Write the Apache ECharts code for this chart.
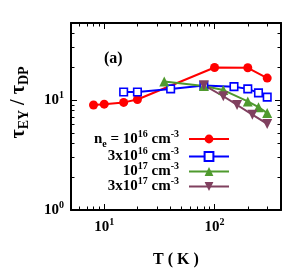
<!DOCTYPE html>
<html><head><meta charset="utf-8">
<script src="https://cdn.jsdelivr.net/npm/echarts@6/dist/echarts.min.js"></script>
<style>html,body{margin:0;padding:0;background:#fff}#c{width:292px;height:273px}</style>
</head><body><div id="c"></div>
<script>
// ---- data ----
const T_1e16 = [8, 10, 15, 20, 100, 200, 300];
const R_1e16 = [9.0, 9.15, 9.5, 10.1, 19.7, 19.6, 15.8];
const T_3e16 = [15, 20, 40, 80, 150, 200, 250, 300];
const R_3e16 = [11.8, 11.8, 12.6, 13.5, 13.2, 12.6, 11.6, 10.6];
const T_1e17 = [35, 80, 120, 200, 250, 300];
const R_1e17 = [14.7, 13.4, 12.3, 9.7, 8.6, 7.6];
const T_3e17 = [80, 120, 160, 220, 300];
const R_3e17 = [13.6, 10.8, 9.0, 7.35, 6.05];

const seriesNames = ['n1e16', 'n3e16', 'n1e17', 'n3e17'];
const seriesLabels = [
  '{b|n}{sub|e}{b| = 10}{sup|16}{b| cm}{sup|-3}',
  '{b|3x10}{sup|16}{b| cm}{sup|-3}',
  '{b|10}{sup|17}{b| cm}{sup|-3}',
  '{b|3x10}{sup|17}{b| cm}{sup|-3}'
];

const X_MIN = 5, X_MAX = 400;
const Y_MIN = 1, Y_MAX = 50;
const xMinorTicks = [6, 7, 8, 9, 20, 30, 40, 50, 60, 70, 80, 90, 200, 300];
const xMajorTicks = [10, 100];
const yMinorTicks = [2, 3, 4, 5, 6, 7, 8, 9, 20, 30, 40];
const yMajorTicks = [1, 10];

// ---- styling ----
const FONT = 'Liberation Serif';
const richSup = {
  b: { fontFamily: FONT, fontWeight: 'bold', fontSize: 15, lineHeight: 20, color: '#000' },
  sup: { fontFamily: FONT, fontWeight: 'bold', fontSize: 10, lineHeight: 1, verticalAlign: 'top', color: '#000' },
  sub: { fontFamily: FONT, fontWeight: 'bold', fontSize: 10, lineHeight: 1, verticalAlign: 'bottom', color: '#000' }
};
const supLabel = v => '{b|10}{sup|' + Math.round(Math.log10(v)) + '}';

const lx = [Math.log10(X_MIN), Math.log10(X_MAX)];
const ly = [Math.log10(Y_MIN), Math.log10(Y_MAX)];
function deco(dim, position, ticks, len, line) {
  const ext = dim === 'x' ? lx : ly;
  return {
    type: 'value', min: ext[0], max: ext[1], position: position, offset: 0,
    axisLine: { show: line, onZero: false, lineStyle: { color: '#000', width: 2 } },
    axisTick: { show: true, inside: true, length: len, customValues: ticks.map(Math.log10),
      lineStyle: { color: '#000', width: 1 } },
    axisLabel: { show: false }, splitLine: { show: false }
  };
}

const colors = ['#ff0000', '#0000ff', '#4f9a2e', '#80405f'];
const pairs = (T, R) => T.map((t, i) => [t, R[i]]);
const downTri = 'path://M0,0 L10,0 L5,9 Z';

const chart = echarts.init(document.getElementById('c'), null, { renderer: 'canvas' });
chart.setOption({
  animation: false,
  backgroundColor: '#fff',
  title: { text: '(a)', left: 104, top: 51, padding: 0,
    textStyle: { fontFamily: FONT, fontWeight: 'bold', fontSize: 16, color: '#000' } },
  grid: { left: 71, right: 11, top: 23, bottom: 61 },
  legend: {
    orient: 'vertical', align: 'right', right: 62, top: 129, padding: 0,
    itemGap: -2.5, itemWidth: 40, itemHeight: 11,
    data: seriesNames,
    formatter: name => seriesLabels[seriesNames.indexOf(name)],
    textStyle: { rich: richSup, padding: [0, 5, 0, 0] }
  },
  xAxis: [
    { type: 'log', logBase: 10, min: X_MIN, max: X_MAX, position: 'bottom',
      name: 'T ( K )', nameLocation: 'middle', nameGap: 42,
      nameTextStyle: { fontFamily: FONT, fontWeight: 'bold', fontSize: 16, color: '#000' },
      axisLine: { show: true, onZero: false, lineStyle: { color: '#000', width: 2 } },
      axisTick: { show: true, inside: true, length: 6, lineStyle: { color: '#000', width: 1 } },
      axisLabel: { show: true, margin: 7, showMinLabel: false, showMaxLabel: false,
        formatter: v => (xMajorTicks.some(t => Math.abs(t - v) < 1e-6) ? supLabel(v) : ''), rich: richSup },
      splitLine: { show: false }, minorTick: { show: false } },
    deco('x', 'bottom', xMinorTicks, 3.5, false),
    deco('x', 'top', xMajorTicks, 6, true),
    deco('x', 'top', xMinorTicks, 3.5, false)
  ],
  yAxis: [
    { type: 'log', logBase: 10, min: Y_MIN, max: Y_MAX, position: 'left',
      name: '{t|τ}{s|EY}{t| / τ}{s|DP}', nameLocation: 'middle', nameGap: 40,
      nameTextStyle: { padding: [0, 0, 0, 28], rich: {
        t: { fontFamily: FONT, fontWeight: 'bold', fontSize: 20, lineHeight: 24, color: '#000' },
        s: { fontFamily: FONT, fontWeight: 'bold', fontSize: 14, lineHeight: 1, verticalAlign: 'bottom', color: '#000' } } },
      axisLine: { show: true, onZero: false, lineStyle: { color: '#000', width: 2 } },
      axisTick: { show: true, inside: true, length: 6, lineStyle: { color: '#000', width: 1 } },
      axisLabel: { show: true, margin: 7, showMinLabel: true, showMaxLabel: false,
        formatter: v => (yMajorTicks.some(t => Math.abs(t - v) < 1e-6) ? supLabel(v) : ''), rich: richSup },
      splitLine: { show: false }, minorTick: { show: false } },
    deco('y', 'left', yMinorTicks, 3.5, false),
    deco('y', 'right', yMajorTicks, 6, true),
    deco('y', 'right', yMinorTicks, 3.5, false)
  ],
  series: [
    { name: seriesNames[0], type: 'line', data: pairs(T_1e16, R_1e16), symbol: 'circle', symbolSize: 9,
      lineStyle: { color: colors[0], width: 2 }, itemStyle: { color: colors[0] } },
    { name: seriesNames[1], type: 'line', data: pairs(T_3e16, R_3e16), symbol: 'rect', symbolSize: 7.5,
      lineStyle: { color: colors[1], width: 2 }, itemStyle: { color: '#fff', borderColor: colors[1], borderWidth: 1.6 } },
    { name: seriesNames[2], type: 'line', data: pairs(T_1e17, R_1e17), symbol: 'triangle', symbolSize: 10,
      lineStyle: { color: colors[2], width: 2 }, itemStyle: { color: colors[2] } },
    { name: seriesNames[3], type: 'line', data: pairs(T_3e17, R_3e17), symbol: downTri, symbolSize: 10,
      lineStyle: { color: colors[3], width: 2 }, itemStyle: { color: colors[3] } }
  ]
});
</script></body></html>
